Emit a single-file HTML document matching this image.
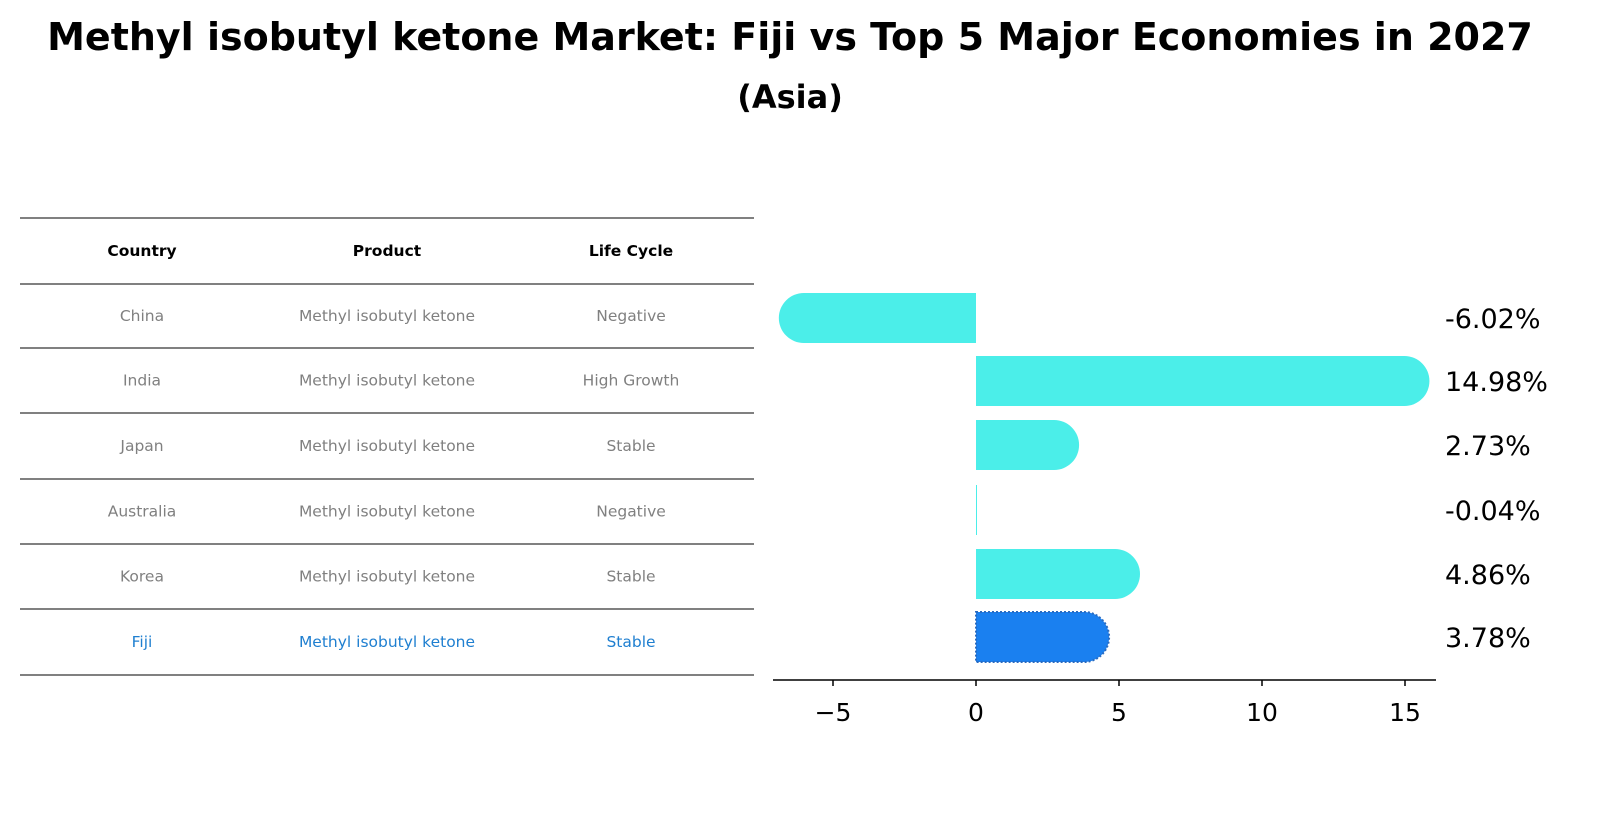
<!DOCTYPE html>
<html><head><meta charset="utf-8"><style>
body{margin:0;background:#fff;font-family:"Liberation Sans","DejaVu Sans",sans-serif;}
.wrap{position:relative;width:1604px;height:823px;overflow:hidden}
</style></head><body><div class="wrap">
<svg id="svg" width="1604" height="823" style="font-family:'DejaVu Sans','Liberation Sans',sans-serif">
<text x="790" y="50" text-anchor="middle" font-size="38" font-weight="bold">Methyl isobutyl ketone Market: Fiji vs Top 5 Major Economies in 2027</text>
<text x="790" y="108" text-anchor="middle" font-size="32" font-weight="bold">(Asia)</text>
<g id="table"></g>
<g id="bars"></g>
</svg>
<script>
const countries=["China","India","Japan","Australia","Korea","Fiji"];
const products=["Methyl isobutyl ketone","Methyl isobutyl ketone","Methyl isobutyl ketone","Methyl isobutyl ketone","Methyl isobutyl ketone","Methyl isobutyl ketone"];
const lifeCycles=["Negative","High Growth","Stable","Negative","Stable","Stable"];
const values=[-6.02,14.98,2.73,-0.04,4.86,3.78];
const ticks=[-5,0,5,10,15];
const NS="http://www.w3.org/2000/svg";
function mk(t,a,p,txt){const e=document.createElementNS(NS,t);for(const k in a)e.setAttribute(k,a[k]);if(txt!==undefined)e.textContent=txt;p.appendChild(e);return e;}
const tb=document.getElementById('table');
const lines=[218,284,348,413,479,544,609,675];
lines.forEach((y,i)=>{const l=mk('line',{x1:20,x2:754,y1:y,y2:y,stroke:'#000','stroke-width':1},tb);
});
const cx=[142,387,631];
["Country","Product","Life Cycle"].forEach((h,i)=>{const t=mk('text',{x:cx[i],y:256,'text-anchor':'middle','font-size':15.5,'font-weight':'bold'},tb,h);
});
countries.forEach((c,r)=>{const y=(lines[r+1]+lines[r+2])/2+5;const col=r===5?'#1f7fd0':'#808080';
[c,products[r],lifeCycles[r]].forEach((v,i)=>{const t=mk('text',{x:cx[i],y:y,'text-anchor':'middle','font-size':15.5,fill:col},tb,v);
});});
const g=document.getElementById('bars');
const x0=976,ppu=28.6,X=v=>x0+v*ppu;
const yc=[318,381,445,510,574,637],h=50,r=25;
values.forEach((v,i)=>{const fiji=i===5;const col=fiji?'#1a80f0':'#4beee9';
const xe=X(v),cy=yc[i];
let d;
if(Math.abs(v)<0.2){d=`M${x0} ${cy-h/2}h1v${h}h-1z`;}
else if(v>0){d=`M${x0} ${cy-h/2}H${xe}A${r} ${r} 0 0 1 ${xe} ${cy+h/2}H${x0}Z`;}
else{d=`M${x0} ${cy-h/2}H${xe}A${r} ${r} 0 0 0 ${xe} ${cy+h/2}H${x0}Z`;}
const p=mk('path',{d:d,fill:col},g);
if(fiji){p.setAttribute('stroke','#2a6bc0');p.setAttribute('stroke-width','2');p.setAttribute('stroke-dasharray','2 2');}

const t=mk('text',{x:1445,y:cy+10,'font-size':27},g,v.toFixed(2)+'%');
});
const ax=mk('line',{x1:773,x2:1436,y1:680,y2:680,stroke:'#000','stroke-width':1.5},g);

ticks.forEach(tv=>{const tk=mk('line',{x1:X(tv),x2:X(tv),y1:680,y2:686,stroke:'#000','stroke-width':1.5},g);

const t=mk('text',{x:X(tv),y:721,'text-anchor':'middle','font-size':25},g,tv<0?'\u2212'+Math.abs(tv):String(tv));
});
</script>
</div></body></html>
